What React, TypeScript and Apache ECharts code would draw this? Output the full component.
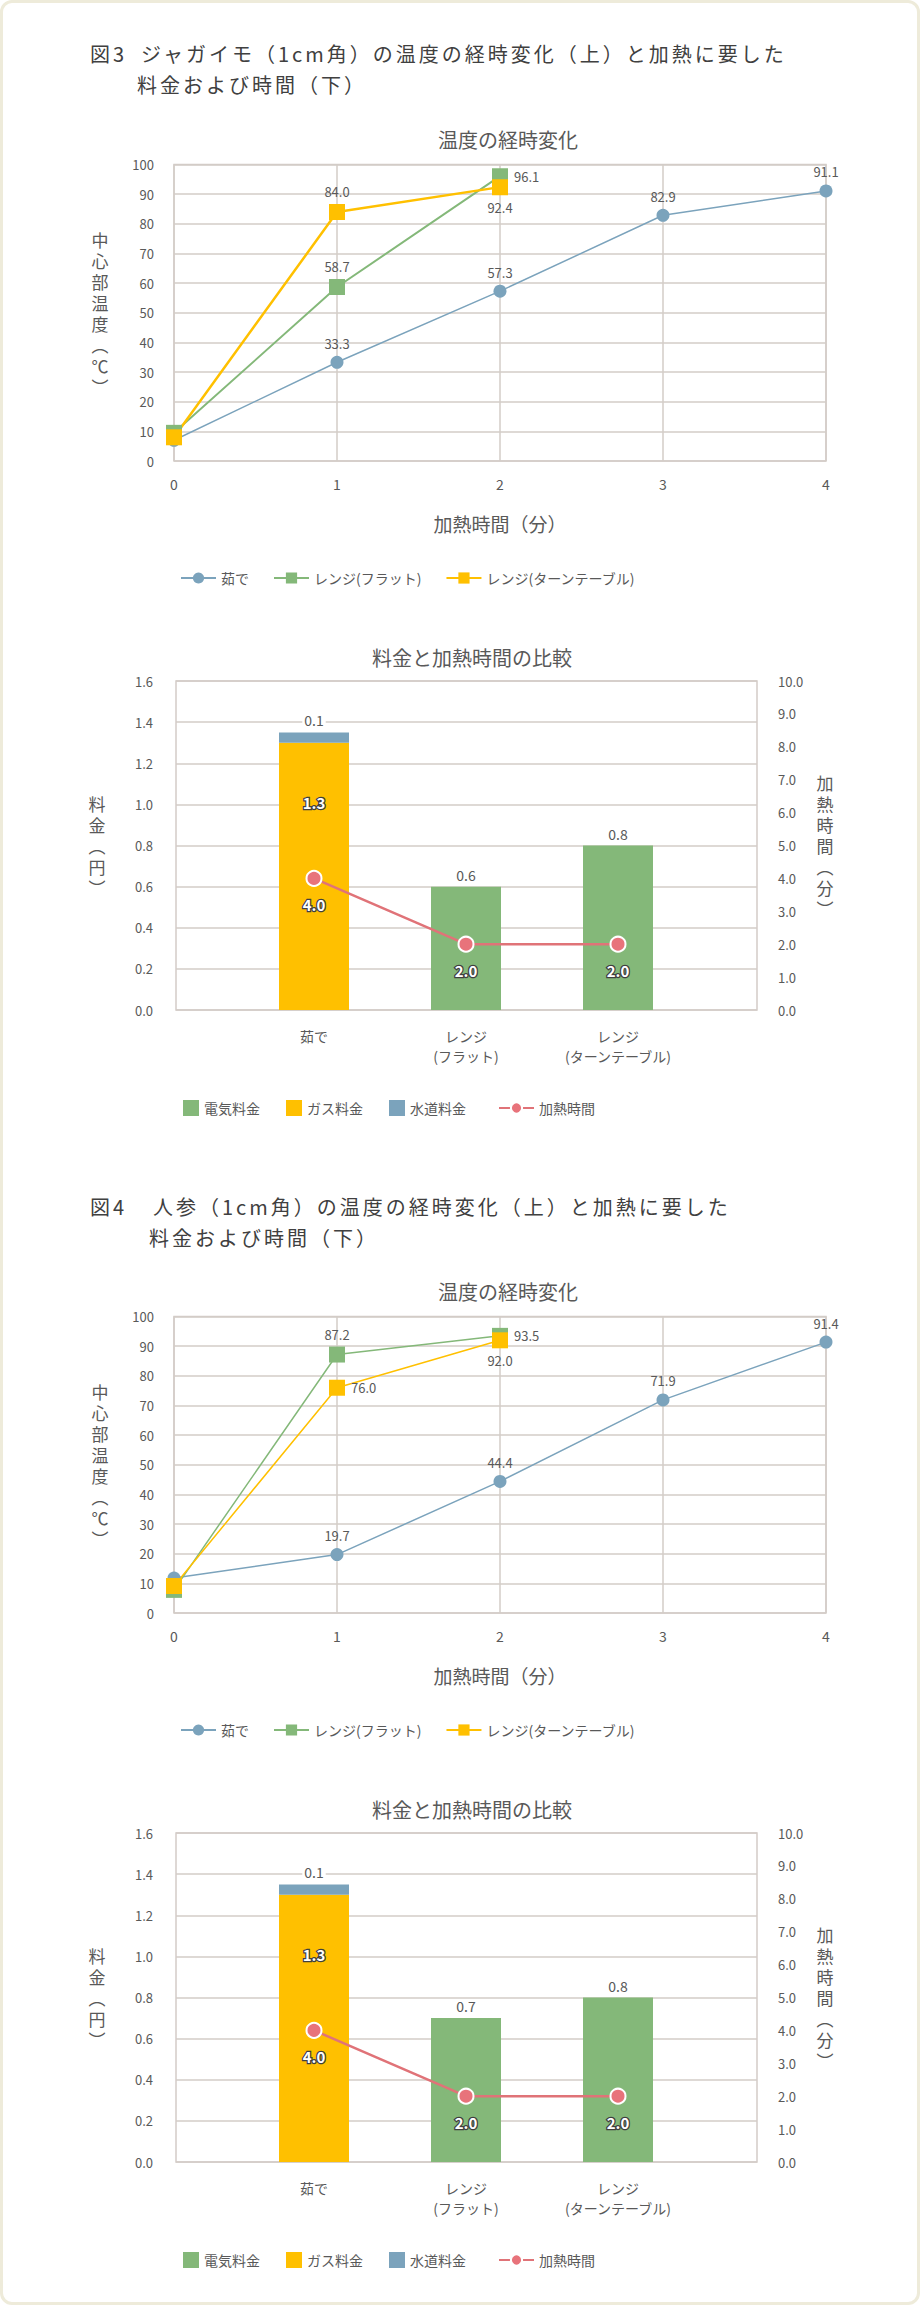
import React, { useEffect, useRef } from 'react';
import * as echarts from 'echarts';

// time axis (minutes)
const minutes = [0, 1, 2, 3, 4];
const methodNames = ['茹で', 'レンジ(フラット)', 'レンジ(ターンテーブル)'];

// fig.3 potato, core temperature (℃)
const potatoBoil = [7.0, 33.3, 57.3, 82.9, 91.1];
const potatoFlat = [9.5, 58.7, 96.1];
const potatoTurn = [8.0, 84.0, 92.4];

// fig.4 carrot, core temperature (℃)
const carrotBoil = [11.8, 19.7, 44.4, 71.9, 91.4];
const carrotFlat = [7.8, 87.2, 93.5];
const carrotTurn = [9.1, 76.0, 92.0];

// cost chart
const methods = ['茹で', 'レンジ\n(フラット)', 'レンジ\n(ターンテーブル)'];
const costNames = ['電気料金', 'ガス料金', '水道料金'];
const timeName = '加熱時間';

const potatoElectric = [null, 0.6, 0.8];
const potatoGas = [1.3, null, null];
const potatoWater = [0.05, null, null];
const potatoTime = [4.0, 2.0, 2.0];

const carrotElectric = [null, 0.7, 0.8];
const carrotGas = [1.3, null, null];
const carrotWater = [0.05, null, null];
const carrotTime = [4.0, 2.0, 2.0];

const FONT = '"Noto Sans CJK JP", "Noto Sans", sans-serif';
const TEXT = '#595959';
const GRID = '#D3CCC7';
const BLUE = '#7BA3BC';
const GREEN = '#84B879';
const YELLOW = '#FFC000';
const PINK = '#E8737B';

type Pos = string | null;

const useChart = (build: () => echarts.EChartsOption, deps: unknown[]) => {
  const ref = useRef<HTMLDivElement>(null);
  useEffect(() => {
    if (!ref.current) return;
    const chart = echarts.init(ref.current, null, { renderer: 'svg' });
    chart.setOption(build());
    return () => {
      chart.dispose();
    };
  }, deps);
  return ref;
};

// vertical axis title, one glyph per line
const axisNameStyle = {
  fontFamily: FONT,
  fontSize: 17,
  lineHeight: 21,
  color: TEXT,
  align: 'center',
  verticalAlign: 'middle'
};

interface TempProps {
  top: number;
  boil: number[];
  flat: number[];
  turn: number[];
  flatPos: Pos[];
  turnPos: Pos[];
  thickYellow?: boolean;
}

const lineSeries = (
  name: string,
  values: number[],
  positions: Pos[],
  color: string,
  symbol: string,
  size: number,
  width: number
) => ({
  name,
  type: 'line',
  data: values.map((v, i) => ({
    value: v,
    label: { show: positions[i] != null, position: positions[i] || 'top' }
  })),
  symbol,
  symbolSize: size,
  lineStyle: { color, width },
  itemStyle: { color },
  label: {
    color: TEXT,
    fontSize: 13,
    fontFamily: FONT,
    distance: 6,
    formatter: (p: any) => Number(p.value).toFixed(1)
  }
});

const TempChart: React.FC<TempProps> = ({ top, boil, flat, turn, flatPos, turnPos, thickYellow }) => {
  const ref = useChart(() => ({
    animation: false,
    textStyle: { fontFamily: FONT },
    title: {
      text: '温度の経時変化',
      left: 500,
      textAlign: 'center',
      top: 24,
      textStyle: { fontFamily: FONT, fontSize: 20, fontWeight: 'normal', color: TEXT }
    },
    grid: {
      left: 171,
      top: 64.6,
      width: 652,
      height: 296.4,
      show: true,
      borderColor: GRID,
      borderWidth: 1.5
    },
    legend: {
      left: 172,
      top: 466,
      itemWidth: 35,
      itemHeight: 14,
      itemGap: 24,
      data: methodNames,
      textStyle: { fontFamily: FONT, fontSize: 14, color: TEXT }
    },
    xAxis: {
      type: 'category',
      boundaryGap: false,
      data: minutes.map(String),
      axisLine: { show: false },
      axisTick: { show: false },
      splitLine: { show: true, lineStyle: { color: GRID, width: 1.5 } },
      axisLabel: { color: TEXT, fontSize: 14, margin: 16, fontFamily: FONT },
      name: '加熱時間（分）',
      nameLocation: 'middle',
      nameGap: 53,
      nameTextStyle: { fontFamily: FONT, fontSize: 19, color: TEXT }
    },
    yAxis: {
      type: 'value',
      min: 0,
      max: 100,
      interval: 10,
      axisLine: { show: false },
      axisTick: { show: false },
      splitLine: { lineStyle: { color: GRID, width: 1.5 } },
      axisLabel: { color: TEXT, fontSize: 13, margin: 20, fontFamily: FONT },
      name: '中\n心\n部\n温\n度\n︵\n℃\n︶',
      nameLocation: 'middle',
      nameRotate: 0,
      nameGap: 74,
      nameTextStyle: axisNameStyle
    },
    series: [
      lineSeries(methodNames[0], boil, boil.map((_, i) => (i === 0 ? null : 'top')), BLUE, 'circle', 13, 1.5),
      lineSeries(methodNames[1], flat, flatPos, GREEN, 'rect', 16, thickYellow ? 2 : 1.5),
      lineSeries(methodNames[2], turn, turnPos, YELLOW, 'rect', 16, thickYellow ? 2.5 : 1.5)
    ]
  }) as echarts.EChartsOption, [boil, flat, turn]);

  return <div ref={ref} style={{ position: 'absolute', left: 0, top, width: 920, height: 500 }} />;
};

interface CostProps {
  top: number;
  electric: (number | null)[];
  gas: (number | null)[];
  water: (number | null)[];
  time: number[];
}

const CostChart: React.FC<CostProps> = ({ top, electric, gas, water, time }) => {
  const ref = useChart(() => {
    const inLabel = {
      color: '#fff',
      textBorderColor: '#3f3f3f',
      textBorderWidth: 2.5,
      fontSize: 15,
      fontWeight: 'bold',
      fontFamily: FONT
    };
    const fmt = (p: any) => (Math.round(Number(p.value) * 10) / 10).toFixed(1);
    const bar = (name: string, values: (number | null)[], color: string, label: any) => ({
      name,
      type: 'bar',
      stack: 'cost',
      xAxisIndex: 1,
      yAxisIndex: 2,
      barWidth: 70,
      itemStyle: { color },
      data: values,
      label: { show: true, formatter: fmt, ...label }
    });
    const outLabel = {
      position: 'top',
      distance: 5,
      color: TEXT,
      fontSize: 14,
      fontFamily: FONT,
      backgroundColor: '#fff',
      padding: [0, 2]
    };
    return {
      animation: false,
      textStyle: { fontFamily: FONT },
      title: {
        text: '料金と加熱時間の比較',
        left: 464,
        textAlign: 'center',
        top: 42,
        textStyle: { fontFamily: FONT, fontSize: 20, fontWeight: 'normal', color: TEXT }
      },
      grid: [
        { left: 173, top: 81, width: 581, height: 329, show: true, borderColor: GRID, borderWidth: 1.5 },
        { left: 235, top: 81, width: 456, height: 329 }
      ],
      legend: [
        {
          left: 175,
          top: 495,
          icon: 'rect',
          itemWidth: 16,
          itemHeight: 16,
          itemGap: 26,
          data: costNames,
          textStyle: { fontFamily: FONT, fontSize: 14, color: TEXT }
        },
        {
          left: 490,
          top: 496,
          itemWidth: 35,
          itemHeight: 14,
          data: [timeName],
          textStyle: { fontFamily: FONT, fontSize: 14, color: TEXT }
        }
      ],
      xAxis: [
        { gridIndex: 0, type: 'category', data: methods, show: false },
        {
          gridIndex: 1,
          type: 'category',
          data: methods,
          axisLine: { show: false },
          axisTick: { show: false },
          axisLabel: { color: TEXT, fontSize: 14, lineHeight: 20, margin: 16, fontFamily: FONT }
        }
      ],
      yAxis: [
        {
          gridIndex: 0,
          type: 'value',
          min: 0,
          max: 1.6,
          interval: 0.2,
          axisLine: { show: false },
          axisTick: { show: false },
          splitLine: { lineStyle: { color: GRID, width: 1.5 } },
          axisLabel: { color: TEXT, fontSize: 13, margin: 23, fontFamily: FONT, formatter: (v: number) => v.toFixed(1) },
          name: '料\n金\n︵\n円\n︶',
          nameLocation: 'middle',
          nameRotate: 0,
          nameGap: 79,
          nameTextStyle: axisNameStyle
        },
        {
          gridIndex: 0,
          type: 'value',
          position: 'right',
          min: 0,
          max: 10,
          interval: 1,
          axisLine: { show: false },
          axisTick: { show: false },
          splitLine: { show: false },
          axisLabel: { color: TEXT, fontSize: 13, margin: 21, fontFamily: FONT, formatter: (v: number) => v.toFixed(1) },
          name: '加\n熱\n時\n間\n︵\n分\n︶',
          nameLocation: 'middle',
          nameRotate: 0,
          nameGap: 68,
          nameTextStyle: axisNameStyle
        },
        { gridIndex: 1, type: 'value', min: 0, max: 1.6, show: false },
        { gridIndex: 1, type: 'value', min: 0, max: 10, show: false }
      ],
      series: [
        bar(costNames[0], electric, GREEN, outLabel),
        bar(costNames[1], gas, YELLOW, { position: 'insideTop', distance: 52, ...inLabel }),
        bar(costNames[2], water, BLUE, outLabel),
        {
          name: timeName,
          type: 'line',
          xAxisIndex: 1,
          yAxisIndex: 3,
          data: time,
          symbol: 'circle',
          symbolSize: 15,
          lineStyle: { color: '#E07378', width: 2.5 },
          itemStyle: { color: PINK, borderColor: '#fff', borderWidth: 2 },
          label: { show: true, position: 'bottom', distance: 10, formatter: fmt, ...inLabel },
          z: 5
        }
      ]
    } as echarts.EChartsOption;
  }, [electric, gas, water, time]);

  return <div ref={ref} style={{ position: 'absolute', left: 0, top, width: 920, height: 540 }} />;
};

const headStyle: React.CSSProperties = {
  position: 'absolute',
  fontFamily: FONT,
  fontSize: 20,
  lineHeight: '28px',
  letterSpacing: 3,
  color: '#404040',
  whiteSpace: 'nowrap'
};

const Heading: React.FC<{ top: number; fig: string; textLeft: number; line1: string; line2: string }> = ({
  top,
  fig,
  textLeft,
  line1,
  line2
}) => (
  <>
    <div style={{ ...headStyle, top, left: 87 }}>{fig}</div>
    <div style={{ ...headStyle, top, left: textLeft }}>{line1}</div>
    <div style={{ ...headStyle, top: top + 31, left: textLeft - 4 }}>{line2}</div>
  </>
);

export default function App() {
  useEffect(() => {
    document.body.style.margin = '0';
  }, []);
  return (
    <div
      style={{
        position: 'relative',
        width: 920,
        height: 2305,
        boxSizing: 'border-box',
        border: '3px solid #EEEBDA',
        borderRadius: 12,
        background: '#fff',
        overflow: 'hidden'
      }}
    >
      <Heading
        top={37}
        fig="図3"
        textLeft={138}
        line1="ジャガイモ（1cm角）の温度の経時変化（上）と加熱に要した"
        line2="料金および時間（下）"
      />
      <TempChart
        top={97}
        boil={potatoBoil}
        flat={potatoFlat}
        turn={potatoTurn}
        flatPos={[null, 'top', 'right']}
        turnPos={[null, 'top', 'bottom']}
        thickYellow
      />
      <CostChart top={597} electric={potatoElectric} gas={potatoGas} water={potatoWater} time={potatoTime} />
      <Heading
        top={1190}
        fig="図4"
        textLeft={150}
        line1="人参（1cm角）の温度の経時変化（上）と加熱に要した"
        line2="料金および時間（下）"
      />
      <TempChart
        top={1249}
        boil={carrotBoil}
        flat={carrotFlat}
        turn={carrotTurn}
        flatPos={[null, 'top', 'right']}
        turnPos={[null, 'right', 'bottom']}
      />
      <CostChart top={1749} electric={carrotElectric} gas={carrotGas} water={carrotWater} time={carrotTime} />
    </div>
  );
}
